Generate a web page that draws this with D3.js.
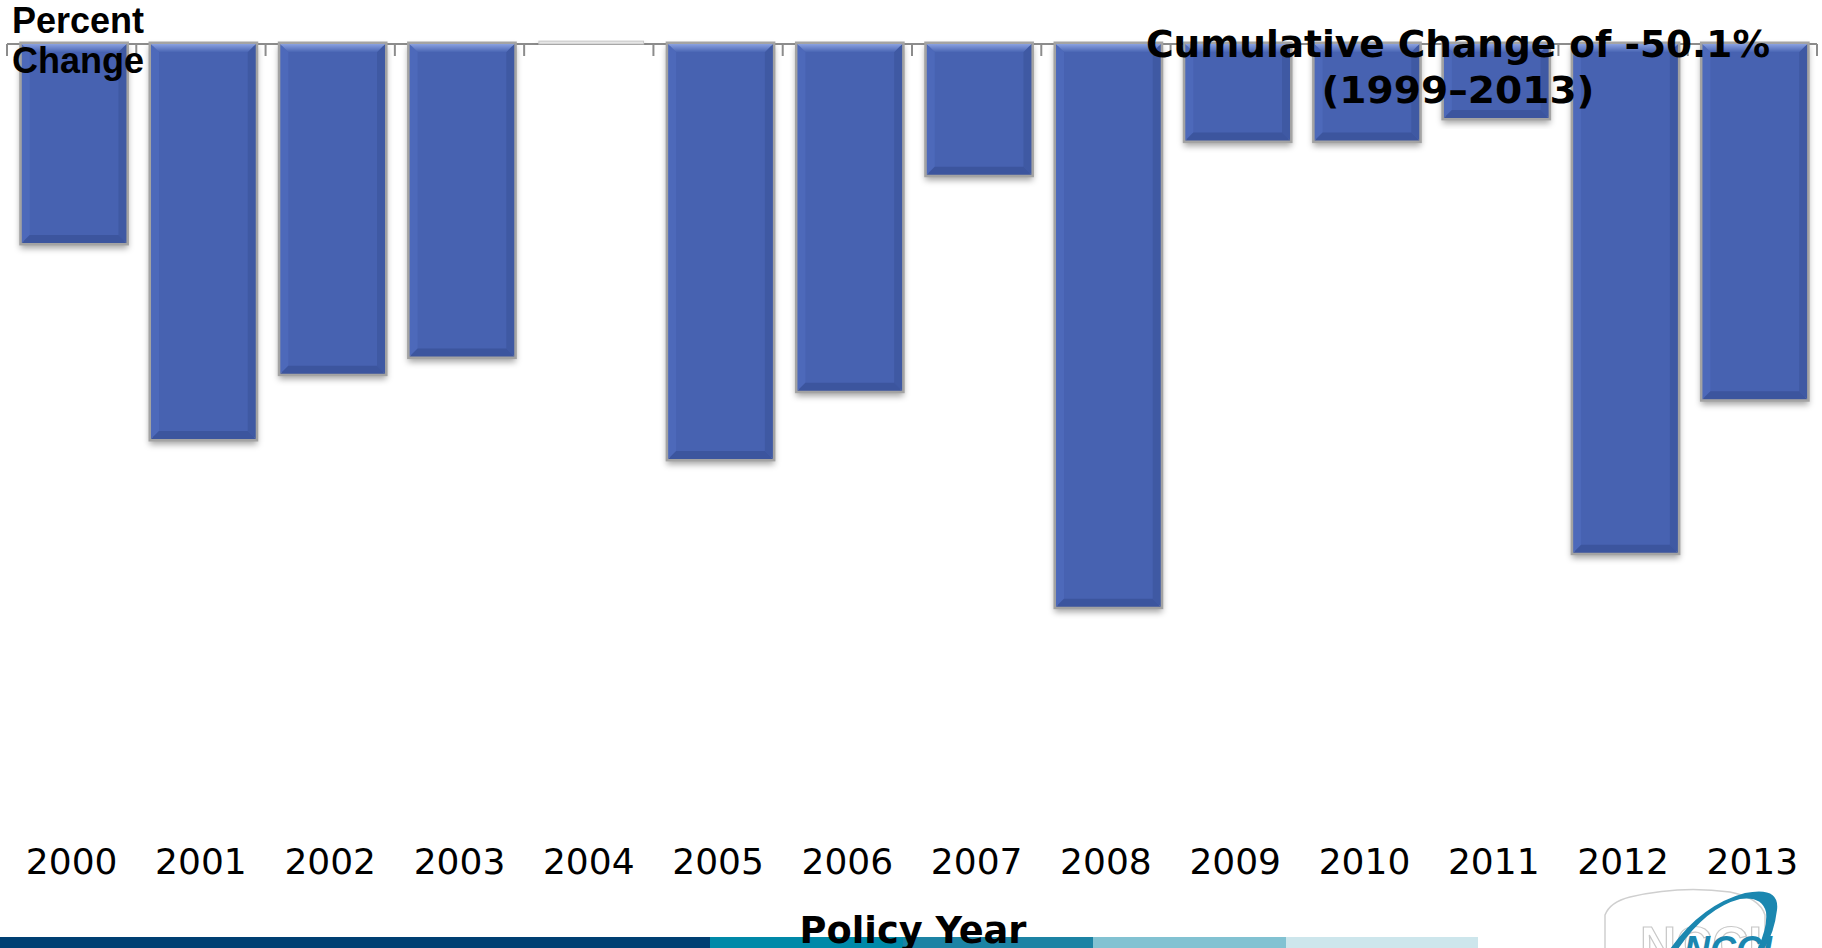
<!DOCTYPE html>
<meta charset="utf-8">
<style type="text/css">
  body { margin: 0; background: #fff; }
  svg { display: block; }
  .year { font-family: "DejaVu Sans", Verdana, sans-serif; font-size: 36px; fill: #000; }
  .ylab { font-family: "Liberation Sans", Arial, sans-serif; font-size: 36px; font-weight: bold; }
  .note { font-family: "DejaVu Sans", Verdana, sans-serif; font-size: 38px; font-weight: bold; }
</style>
<body>
<div class="chart"></div>
</body>
<script src="https://d3js.org/d3.v7.min.js"></script>
<script>

var width = 1822,
    height = 948;

// data (percent change by policy year)
var years = ["2000", "2001", "2002", "2003", "2004", "2005", "2006",
             "2007", "2008", "2009", "2010", "2011", "2012", "2013"];
var changes = [-3.5, -6.95, -5.8, -5.5, 0.05, -7.3, -6.1,
               -2.3, -9.9, -1.7, -1.7, -1.3, -8.95, -6.25];
var yDomain = [-12, 0];
var noteLines = ["Cumulative Change of -50.1%", "(1999\u20132013)"];
var axisLabelLines = ["Percent", "Change"];
var footerColors = ["#003f72", "#0089a8", "#1c83a4", "#82c2d2", "#cde6ec"];
var footerWidths = [710, 193, 190, 193, 192];

var data = years.map(function(y, i){ return {year: y, value: changes[i]}; });

var svg = d3.select(".chart").append("svg")
    .attr("width", width)
    .attr("height", height);

var defs = svg.append("defs");
var shadow = defs.append("filter").attr("id", "shadow")
    .attr("x", "-10%").attr("y", "-10%").attr("width", "120%").attr("height", "125%");
shadow.append("feDropShadow")
    .attr("dx", 0).attr("dy", 4).attr("stdDeviation", 3)
    .attr("flood-color", "#000").attr("flood-opacity", 0.35);

var topGrad = defs.append("linearGradient").attr("id", "topBevel")
    .attr("x1", 0).attr("y1", 0).attr("x2", 0).attr("y2", 1);
topGrad.append("stop").attr("offset", "0%").attr("stop-color", "#8aa1e0");
topGrad.append("stop").attr("offset", "100%").attr("stop-color", "#4a66b4");

var x = d3.scaleBand()
    .domain(years)
    .range([7, 1817])
    .paddingInner(0.19)
    .paddingOuter(0.095)
    .align(0.6);

// category boundaries for the tick marks
var xCat = d3.scaleBand()
    .domain(years)
    .range([7, 1817]);

var y = d3.scaleLinear()
    .domain(yDomain)
    .range([726, 44]);

// axis line and category ticks
var axisG = svg.append("g").attr("class", "axis");
axisG.append("line")
    .attr("x1", xCat.range()[0]).attr("x2", xCat.range()[1])
    .attr("y1", y(0)).attr("y2", y(0))
    .attr("stroke", "#8c8c8c").attr("stroke-width", 2);

var bounds = years.map(function(d){ return xCat(d); });
bounds.push(xCat.range()[1]);
axisG.selectAll(".tick")
    .data(bounds)
    .enter().append("line")
    .attr("x1", function(d){ return d; }).attr("x2", function(d){ return d; })
    .attr("y1", y(0)).attr("y2", y(0) + 12)
    .attr("stroke", "#8c8c8c").attr("stroke-width", 2);

// bars
var bars = svg.selectAll(".bar")
    .data(data)
    .enter().append("g")
    .attr("class", "bar");

var b = 8;

bars.each(function(d){
  var g = d3.select(this);
  var x0 = x(d.year), w = x.bandwidth();
  var top = Math.min(y(d.value), y(0));
  var h = Math.abs(y(d.value) - y(0));

  if (h < 6) {
    g.append("rect")
      .attr("x", x0).attr("y", top)
      .attr("width", w).attr("height", Math.max(h, 2))
      .attr("fill", "#e6e6e6")
      .attr("stroke", "#c8c8c8").attr("stroke-width", 1)
      .attr("filter", "url(#shadow)");
    return;
  }

  g.append("rect")
    .attr("x", x0).attr("y", top)
    .attr("width", w).attr("height", h)
    .attr("fill", "#4762b1")
    .attr("stroke", "#a3a3a3").attr("stroke-width", 3)
    .attr("filter", "url(#shadow)");

  var x1 = x0 + w, y1 = top + h;
  // left bevel
  g.append("path")
    .attr("d", "M" + x0 + "," + top + "L" + (x0 + b) + "," + (top + b) + "L" + (x0 + b) + "," + (y1 - b) + "L" + x0 + "," + y1 + "Z")
    .attr("fill", "#4d69ba");
  // right bevel
  g.append("path")
    .attr("d", "M" + x1 + "," + top + "L" + (x1 - b) + "," + (top + b) + "L" + (x1 - b) + "," + (y1 - b) + "L" + x1 + "," + y1 + "Z")
    .attr("fill", "#3f59a3");
  // bottom bevel
  g.append("path")
    .attr("d", "M" + x0 + "," + y1 + "L" + (x0 + b) + "," + (y1 - b) + "L" + (x1 - b) + "," + (y1 - b) + "L" + x1 + "," + y1 + "Z")
    .attr("fill", "#3c559e");
  // top bevel
  g.append("path")
    .attr("d", "M" + x0 + "," + top + "L" + (x0 + b) + "," + (top + b) + "L" + (x1 - b) + "," + (top + b) + "L" + x1 + "," + top + "Z")
    .attr("fill", "url(#topBevel)");
  g.append("rect")
    .attr("x", x0 - 1.5).attr("y", top - 1.5)
    .attr("width", w + 3).attr("height", h + 3)
    .attr("fill", "none")
    .attr("stroke", "#a3a3a3").attr("stroke-width", 2);
});

// year labels
svg.selectAll(".year")
    .data(years)
    .enter().append("text")
    .attr("class", "year")
    .attr("x", function(d){ return xCat(d) + xCat.bandwidth() / 2; })
    .attr("y", 874)
    .attr("text-anchor", "middle")
    .text(function(d){ return d; });

// y axis label
svg.append("text")
    .attr("class", "ylab")
    .selectAll("tspan")
    .data(axisLabelLines)
    .enter().append("tspan")
    .attr("x", 12)
    .attr("y", function(d, i){ return 33 + i * 40; })
    .text(function(d){ return d; });

// cumulative note
var noteLen = [624, 273];
svg.selectAll(".noteline")
    .data(noteLines)
    .enter().append("text")
    .attr("class", "note noteline")
    .attr("x", 1458)
    .attr("y", function(d, i){ return 57 + i * 46; })
    .attr("text-anchor", "middle")
    .attr("textLength", function(d, i){ return noteLen[i]; })
    .attr("lengthAdjust", "spacingAndGlyphs")
    .text(function(d){ return d; });

// footer strip
var fx = 0;
var bands = footerColors.map(function(c, i){
  var o = {color: c, x: fx, w: footerWidths[i]};
  fx += footerWidths[i];
  return o;
});
svg.selectAll(".band")
    .data(bands)
    .enter().append("rect")
    .attr("x", function(d){ return d.x; })
    .attr("y", 937)
    .attr("width", function(d){ return d.w; })
    .attr("height", 11)
    .attr("fill", function(d){ return d.color; });

// x axis title
svg.append("text")
    .attr("class", "note")
    .attr("x", 913)
    .attr("y", 943)
    .attr("text-anchor", "middle")
    .attr("textLength", 227)
    .attr("lengthAdjust", "spacingAndGlyphs")
    .text("Policy Year");

// logo (partly cut off at bottom right)
var logo = svg.append("g").attr("class", "logo");
logo.append("path")
    .attr("d", "M1605,960 L1605,915 Q1610,902 1630,897 Q1680,885 1730,892 Q1760,898 1765,915 L1765,960")
    .attr("fill", "none").attr("stroke", "#cfcfcf").attr("stroke-width", 1.5);
logo.append("text")
    .attr("x", 1640).attr("y", 962)
    .attr("font-family", "Liberation Sans, Arial, sans-serif")
    .attr("font-size", 50).attr("font-weight", "bold")
    .attr("fill", "#fff").attr("stroke", "#c8c8c8").attr("stroke-width", 1.2)
    .text("NCCI");
logo.append("path")
    .attr("d", "M1668,952 Q1700,905 1745,893 Q1780,886 1777,910 Q1774,935 1762,952 L1756,952 Q1768,928 1766,912 Q1762,896 1740,899 Q1705,908 1676,952 Z")
    .attr("fill", "#1b87b0");
logo.append("text")
    .attr("x", 1684).attr("y", 962)
    .attr("font-family", "Liberation Sans, Arial, sans-serif")
    .attr("font-size", 36).attr("font-weight", "bold").attr("font-style", "italic")
    .attr("fill", "#1b87b0")
    .text("NCCI");

</script>
